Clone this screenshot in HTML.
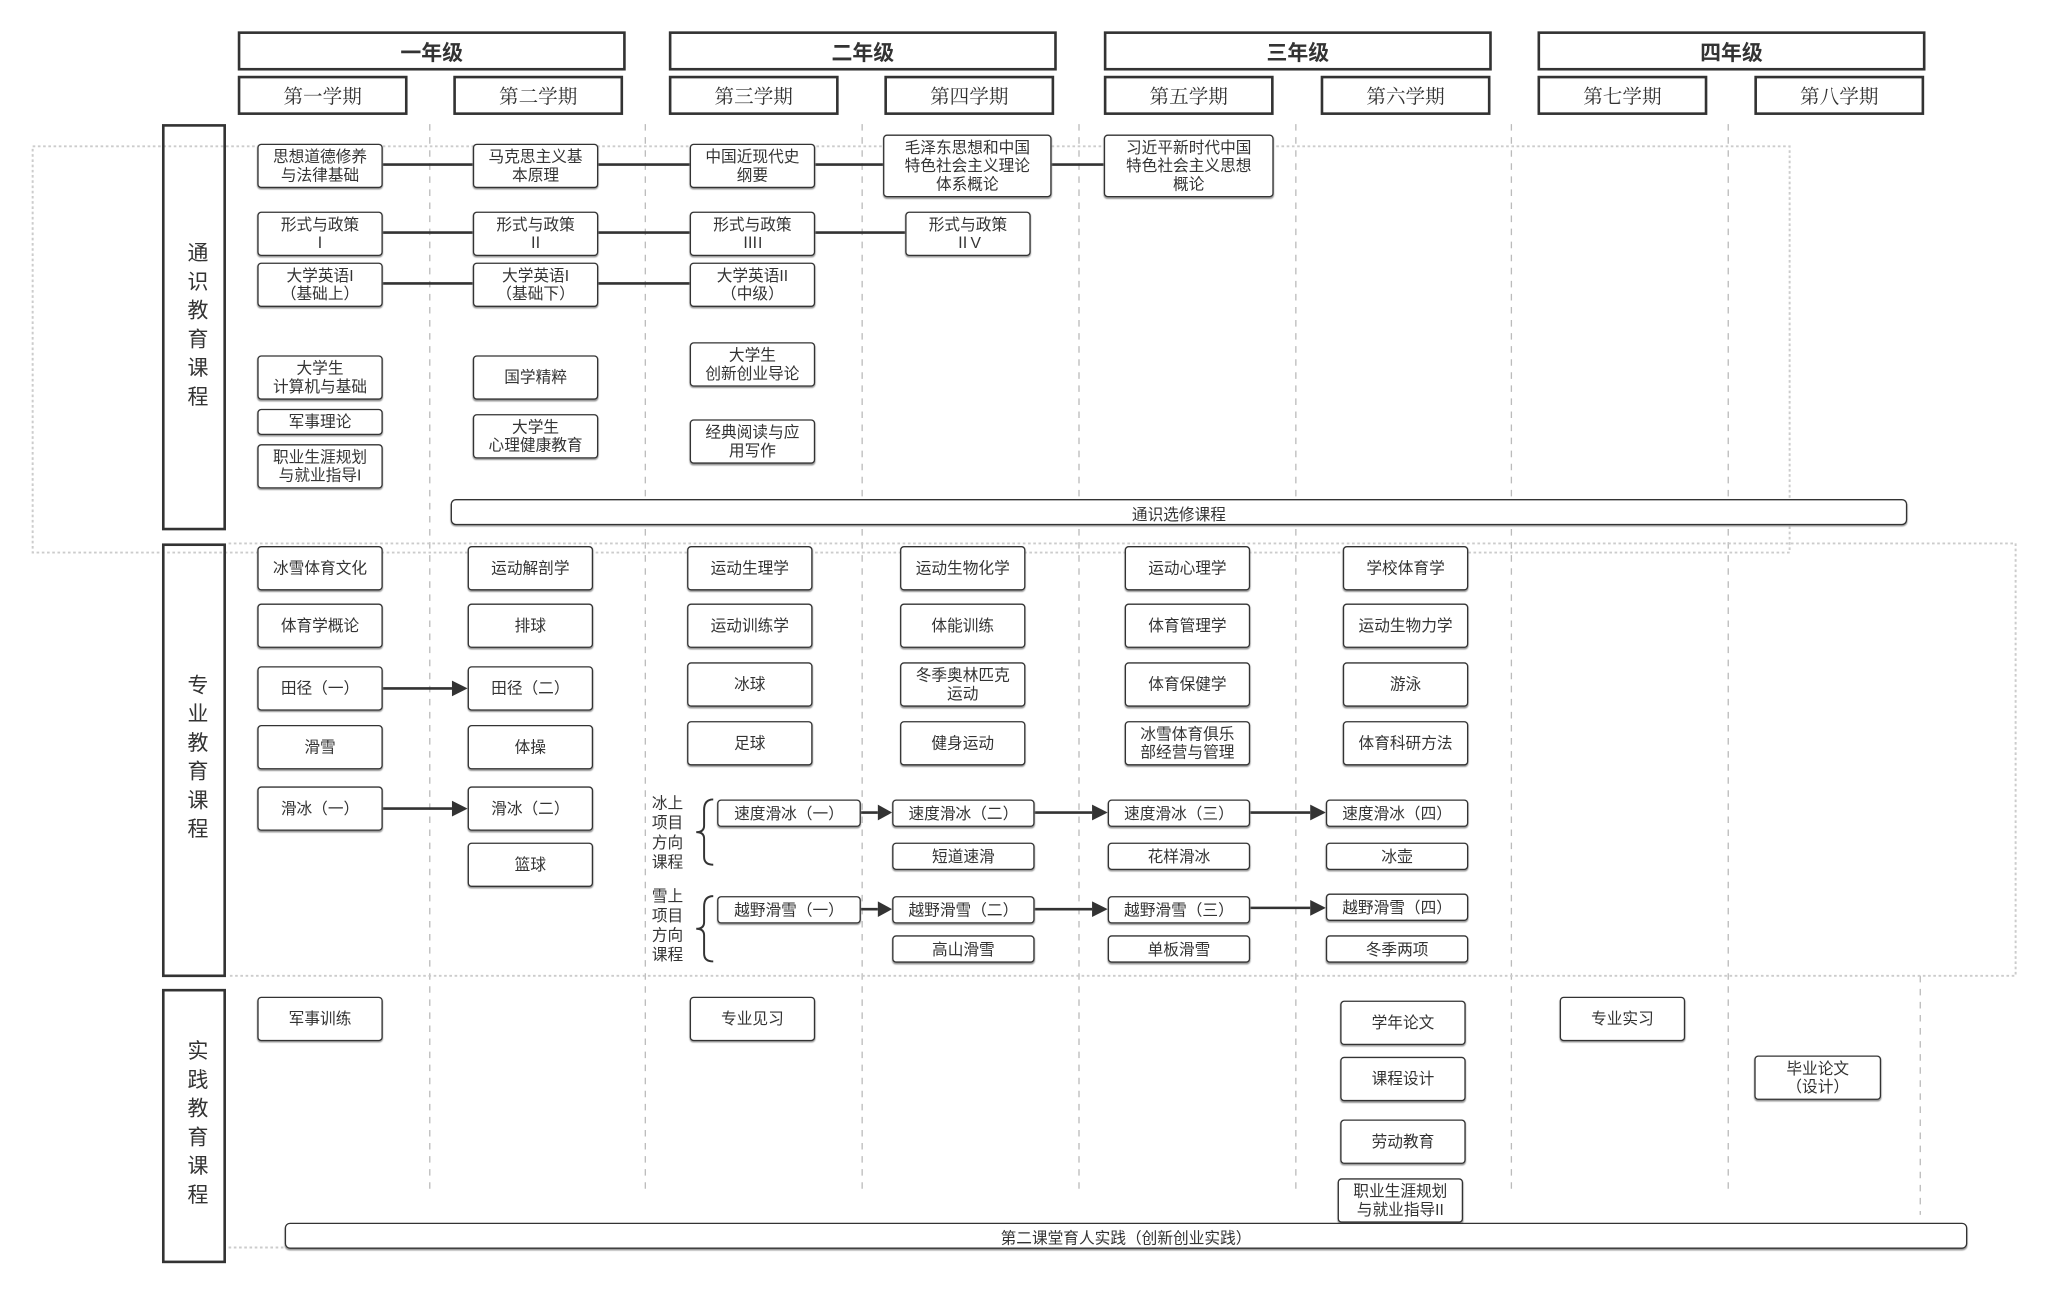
<!DOCTYPE html>
<html><head><meta charset="utf-8"><style>
html,body{margin:0;padding:0;background:#fff;}
body{width:2048px;height:1293px;overflow:hidden;position:relative;}
#w{position:absolute;left:0;top:0;width:1570px;height:990px;transform:scale(1.3063);transform-origin:0 0;font-family:"Liberation Sans","Noto Sans CJK SC",sans-serif;color:#333;}
.a{position:absolute;box-sizing:border-box;}
.y{border:2px solid #333;display:flex;align-items:center;justify-content:center;font-weight:bold;font-size:16px;top:24px;height:30px;width:297px;}
.s{border:2px solid #333;display:flex;align-items:center;justify-content:center;font-family:"Liberation Serif","Noto Serif CJK SC",serif;font-size:15px;top:58px;height:30px;width:130px;}
.c{border:2px solid #333;left:124px;width:49px;display:flex;align-items:center;justify-content:center;writing-mode:vertical-rl;font-size:16px;letter-spacing:6px;}
.n{border:1.6px solid #333;border-radius:3px;background:#fff;display:flex;align-items:center;justify-content:center;text-align:center;font-size:12px;line-height:14px;box-shadow:0 1px 1px #999;}
.lb{font-size:12px;line-height:15px;width:26px;text-align:center;}
</style></head><body><div id="w">
<svg class="a" style="left:0;top:0" width="1570" height="990">
<g stroke="#bbb" stroke-width="1" fill="none" stroke-dasharray="5,5">
<line x1="329" y1="95" x2="329" y2="915"/><line x1="494" y1="95" x2="494" y2="915"/><line x1="660" y1="95" x2="660" y2="915"/><line x1="826" y1="95" x2="826" y2="915"/><line x1="992" y1="95" x2="992" y2="915"/><line x1="1157" y1="95" x2="1157" y2="915"/><line x1="1323" y1="95" x2="1323" y2="915"/><line x1="1470" y1="747" x2="1470" y2="930"/>
</g>
<g stroke="#ccc" stroke-width="1.5" fill="none" stroke-dasharray="2,2">
<rect x="25" y="112" width="1345" height="311"/>
<path d="M175 416 H1543 V747 H175"/>
<line x1="175" y1="955" x2="218" y2="955"/>
</g>
<g stroke="#333" stroke-width="2" fill="none">
<line x1="293" y1="126" x2="845" y2="126"/>
<line x1="293" y1="178" x2="693" y2="178"/>
<line x1="293" y1="217" x2="528" y2="217"/>
<line x1="293" y1="527" x2="346" y2="527"/>
<line x1="293" y1="619" x2="346" y2="619"/>
<line x1="659" y1="622" x2="672" y2="622"/>
<line x1="792" y1="622" x2="836" y2="622"/>
<line x1="957" y1="622" x2="1003" y2="622"/>
<line x1="659" y1="696" x2="672" y2="696"/>
<line x1="792" y1="696" x2="836" y2="696"/>
<line x1="957" y1="695" x2="1003" y2="695"/>
<path d="M546 612 Q539 612 539 620 V632 Q539 637 533 637 Q539 637 539 642 V656 Q539 662 546 662" stroke-width="1.5"/>
<path d="M546 686 Q539 686 539 694 V706 Q539 711 533 711 Q539 711 539 716 V730 Q539 736 546 736" stroke-width="1.5"/>
</g>
<g fill="#333">
<path d="M358 527 l-12 -6 v12z"/><path d="M358 619 l-12 -6 v12z"/>
<path d="M683 622 l-11 -6 v12z"/><path d="M848 622 l-12 -6 v12z"/><path d="M1015 622 l-12 -6 v12z"/>
<path d="M683 696 l-11 -6 v12z"/><path d="M848 696 l-12 -6 v12z"/><path d="M1015 695 l-12 -6 v12z"/>
</g>
</svg>

<div class="a y" style="left:182px">一年级</div>
<div class="a y" style="left:512px">二年级</div>
<div class="a y" style="left:845px">三年级</div>
<div class="a y" style="left:1177px">四年级</div>
<div class="a s" style="left:182px">第一学期</div>
<div class="a s" style="left:347px">第二学期</div>
<div class="a s" style="left:512px">第三学期</div>
<div class="a s" style="left:677px">第四学期</div>
<div class="a s" style="left:845px">第五学期</div>
<div class="a s" style="left:1011px">第六学期</div>
<div class="a s" style="left:1177px">第七学期</div>
<div class="a s" style="left:1343px">第八学期</div>

<div class="a c" style="top:95px;height:311px">通识教育课程</div>
<div class="a c" style="top:416px;height:332px">专业教育课程</div>
<div class="a c" style="top:757px;height:210px">实践教育课程</div>

<div class="a n" style="left:197px;top:110px;width:96px;height:34px">思想道德修养<br>与法律基础</div>
<div class="a n" style="left:362px;top:110px;width:96px;height:34px">马克思主义基<br>本原理</div>
<div class="a n" style="left:528px;top:110px;width:96px;height:34px">中国近现代史<br>纲要</div>
<div class="a n" style="left:676px;top:103px;width:129px;height:48px">毛泽东思想和中国<br>特色社会主义理论<br>体系概论</div>
<div class="a n" style="left:845px;top:103px;width:130px;height:48px">习近平新时代中国<br>特色社会主义思想<br>概论</div>
<div class="a n" style="left:197px;top:162px;width:96px;height:34px">形式与政策<br>Ⅰ</div>
<div class="a n" style="left:362px;top:162px;width:96px;height:34px">形式与政策<br>Ⅱ</div>
<div class="a n" style="left:528px;top:162px;width:96px;height:34px">形式与政策<br>ⅢI</div>
<div class="a n" style="left:693px;top:162px;width:96px;height:34px">形式与政策<br>ⅡV</div>
<div class="a n" style="left:197px;top:201px;width:96px;height:34px">大学英语I<br>（基础上）</div>
<div class="a n" style="left:362px;top:201px;width:96px;height:34px">大学英语I<br>（基础下）</div>
<div class="a n" style="left:528px;top:201px;width:96px;height:34px">大学英语II<br>（中级）</div>
<div class="a n" style="left:197px;top:272px;width:96px;height:34px">大学生<br>计算机与基础</div>
<div class="a n" style="left:362px;top:272px;width:96px;height:34px">国学精粹</div>
<div class="a n" style="left:528px;top:262px;width:96px;height:34px">大学生<br>创新创业导论</div>
<div class="a n" style="left:197px;top:313px;width:96px;height:20px">军事理论</div>
<div class="a n" style="left:197px;top:340px;width:96px;height:34px">职业生涯规划<br>与就业指导I</div>
<div class="a n" style="left:362px;top:317px;width:96px;height:34px">大学生<br>心理健康教育</div>
<div class="a n" style="left:528px;top:321px;width:96px;height:34px">经典阅读与应<br>用写作</div>
<div class="a n" style="left:345px;top:382px;width:1115px;height:20px;border-radius:4px"><span style="position:relative;top:2px">通识选修课程</span></div>

<div class="a n" style="left:197px;top:418px;width:96px;height:34px">冰雪体育文化</div>
<div class="a n" style="left:197px;top:462px;width:96px;height:34px">体育学概论</div>
<div class="a n" style="left:197px;top:510px;width:96px;height:34px">田径（一）</div>
<div class="a n" style="left:197px;top:555px;width:96px;height:34px">滑雪</div>
<div class="a n" style="left:197px;top:602px;width:96px;height:34px">滑冰（一）</div>
<div class="a n" style="left:358px;top:418px;width:96px;height:34px">运动解剖学</div>
<div class="a n" style="left:358px;top:462px;width:96px;height:34px">排球</div>
<div class="a n" style="left:358px;top:510px;width:96px;height:34px">田径（二）</div>
<div class="a n" style="left:358px;top:555px;width:96px;height:34px">体操</div>
<div class="a n" style="left:358px;top:602px;width:96px;height:34px">滑冰（二）</div>
<div class="a n" style="left:358px;top:645px;width:96px;height:34px">篮球</div>
<div class="a n" style="left:526px;top:418px;width:96px;height:34px">运动生理学</div>
<div class="a n" style="left:526px;top:462px;width:96px;height:34px">运动训练学</div>
<div class="a n" style="left:526px;top:507px;width:96px;height:34px">冰球</div>
<div class="a n" style="left:526px;top:552px;width:96px;height:34px">足球</div>
<div class="a n" style="left:689px;top:418px;width:96px;height:34px">运动生物化学</div>
<div class="a n" style="left:689px;top:462px;width:96px;height:34px">体能训练</div>
<div class="a n" style="left:689px;top:507px;width:96px;height:34px">冬季奥林匹克<br>运动</div>
<div class="a n" style="left:689px;top:552px;width:96px;height:34px">健身运动</div>
<div class="a n" style="left:861px;top:418px;width:96px;height:34px">运动心理学</div>
<div class="a n" style="left:861px;top:462px;width:96px;height:34px">体育管理学</div>
<div class="a n" style="left:861px;top:507px;width:96px;height:34px">体育保健学</div>
<div class="a n" style="left:861px;top:552px;width:96px;height:34px">冰雪体育俱乐<br>部经营与管理</div>
<div class="a n" style="left:1028px;top:418px;width:96px;height:34px">学校体育学</div>
<div class="a n" style="left:1028px;top:462px;width:96px;height:34px">运动生物力学</div>
<div class="a n" style="left:1028px;top:507px;width:96px;height:34px">游泳</div>
<div class="a n" style="left:1028px;top:552px;width:96px;height:34px">体育科研方法</div>

<div class="a lb" style="left:498px;top:608px">冰上<br>项目<br>方向<br>课程</div>
<div class="a lb" style="left:498px;top:679px">雪上<br>项目<br>方向<br>课程</div>
<div class="a n" style="left:549px;top:612px;width:110px;height:21px">速度滑冰（一）</div>
<div class="a n" style="left:683px;top:612px;width:109px;height:21px">速度滑冰（二）</div>
<div class="a n" style="left:848px;top:612px;width:109px;height:21px">速度滑冰（三）</div>
<div class="a n" style="left:1015px;top:612px;width:109px;height:21px">速度滑冰（四）</div>
<div class="a n" style="left:683px;top:645px;width:109px;height:21px">短道速滑</div>
<div class="a n" style="left:848px;top:645px;width:109px;height:21px">花样滑冰</div>
<div class="a n" style="left:1015px;top:645px;width:109px;height:21px">冰壶</div>
<div class="a n" style="left:549px;top:686px;width:110px;height:21px">越野滑雪（一）</div>
<div class="a n" style="left:683px;top:686px;width:109px;height:21px">越野滑雪（二）</div>
<div class="a n" style="left:848px;top:686px;width:109px;height:21px">越野滑雪（三）</div>
<div class="a n" style="left:1015px;top:684px;width:109px;height:21px">越野滑雪（四）</div>
<div class="a n" style="left:683px;top:716px;width:109px;height:21px">高山滑雪</div>
<div class="a n" style="left:848px;top:716px;width:109px;height:21px">单板滑雪</div>
<div class="a n" style="left:1015px;top:716px;width:109px;height:21px">冬季两项</div>

<div class="a n" style="left:197px;top:763px;width:96px;height:34px">军事训练</div>
<div class="a n" style="left:528px;top:763px;width:96px;height:34px">专业见习</div>
<div class="a n" style="left:1026px;top:766px;width:96px;height:34px">学年论文</div>
<div class="a n" style="left:1026px;top:809px;width:96px;height:34px">课程设计</div>
<div class="a n" style="left:1026px;top:857px;width:96px;height:34px">劳动教育</div>
<div class="a n" style="left:1024px;top:902px;width:96px;height:34px">职业生涯规划<br>与就业指导II</div>
<div class="a n" style="left:1194px;top:763px;width:96px;height:34px">专业实习</div>
<div class="a n" style="left:1343px;top:808px;width:97px;height:34px">毕业论文<br>（设计）</div>
<div class="a n" style="left:218px;top:936px;width:1288px;height:20px;border-radius:4px"><span style="position:relative;top:2px">第二课堂育人实践（创新创业实践）</span></div>
</div></body></html>
